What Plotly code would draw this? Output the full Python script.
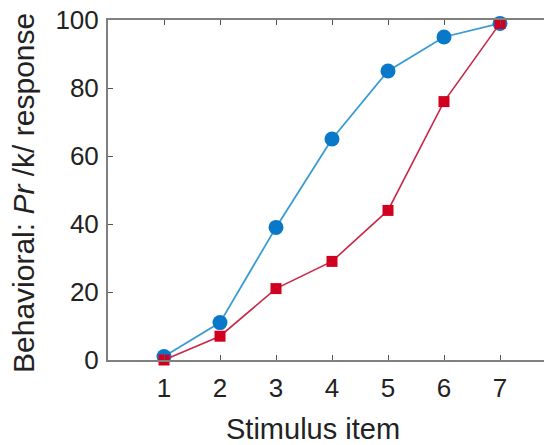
import plotly.graph_objects as go

stimulus = [1, 2, 3, 4, 5, 6, 7]
blue_pct = [1, 11, 39, 65, 85, 95, 99]
red_pct = [0, 7, 21, 29, 44, 76, 99]
y_ticks = [0, 20, 40, 60, 80, 100]

FONT = "Liberation Sans, Arial, Helvetica, sans-serif"

# page has an 8px body margin; plot area in page coords: x 108..556, y 20..360
L, T, PW, PH = 100, 12, 448, 340

fig = go.Figure()
fig.add_trace(go.Scatter(
    x=stimulus, y=blue_pct, mode="lines+markers",
    line=dict(color="#3a9cd2", width=1.8),
    marker=dict(symbol="circle", size=15, color="#0a78c8"),
    cliponaxis=False, showlegend=False))
fig.add_trace(go.Scatter(
    x=stimulus, y=red_pct, mode="lines+markers",
    line=dict(color="#c82848", width=1.6),
    marker=dict(symbol="square", size=11, color="#d0001e"),
    cliponaxis=False, showlegend=False))

fig.update_layout(
    width=L + PW, height=T + PH + 93,
    margin=dict(l=L, r=0, t=T, b=93),
    plot_bgcolor="white", paper_bgcolor="white",
    font=dict(family=FONT, color="#222"),
    xaxis=dict(range=[0, 8], tickvals=stimulus, ticks="inside", ticklen=5,
               tickcolor="#555", showline=True, linecolor="#808080", linewidth=2,
               mirror="ticks", showgrid=False, zeroline=False, automargin=False,
               ticklabelstandoff=4, ticklabeloverflow="allow",
               tickfont=dict(size=26, family=FONT, color="#222")),
    yaxis=dict(range=[0, 100], tickvals=y_ticks, ticks="inside", ticklen=5,
               tickcolor="#555", showline=True, linecolor="#808080", linewidth=2,
               mirror="ticks", showgrid=False, zeroline=False, automargin=False,
               ticklabelstandoff=2, ticklabeloverflow="allow",
               tickfont=dict(size=26, family=FONT, color="#222")),
    annotations=[
        dict(text="Stimulus item", xref="paper", yref="paper",
             x=(313 - 108) / PW, y=-(429 - 360) / PH, xanchor="center", yanchor="middle",
             showarrow=False, font=dict(size=29, family=FONT, color="#222")),
        dict(text="Behavioral: <i>Pr</i> /k/ response", xref="paper", yref="paper",
             x=-(108 - 23) / PW, y=(360 - 193) / PH, xanchor="center", yanchor="middle",
             textangle=-90, showarrow=False, font=dict(size=30, family=FONT, color="#222")),
    ],
)

fig.write_html("out.html")
